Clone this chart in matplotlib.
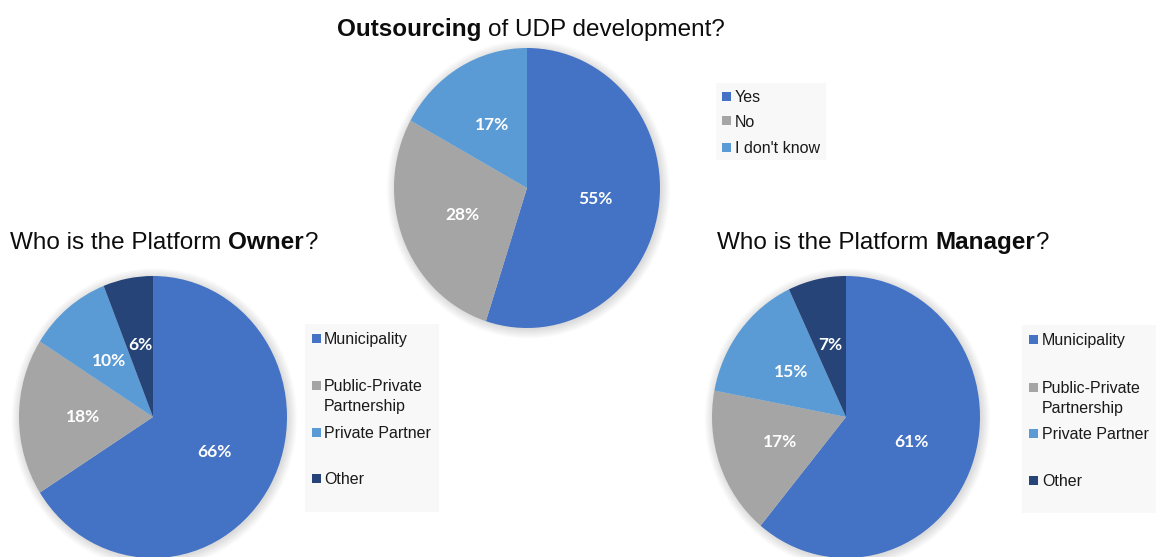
import matplotlib
matplotlib.use("Agg")
import matplotlib.pyplot as plt
from matplotlib.patches import Ellipse, Rectangle

plt.rcParams['font.family'] = ['Liberation Sans', 'DejaVu Sans']

# ---- data ----
outsourcing_labels = ["Yes", "No", "I don't know"]
outsourcing_values = [55, 28, 17]

owner_labels = ["Municipality", "Public-Private\nPartnership", "Private Partner", "Other"]
owner_values = [66, 18, 10, 6]

manager_labels = ["Municipality", "Public-Private\nPartnership", "Private Partner", "Other"]
manager_values = [61, 17, 15, 7]

colors = ["#4472C4", "#A5A5A5", "#5B9BD5", "#264478"]

W, H = 1156, 557
fig = plt.figure(figsize=(W / 100, H / 100), dpi=100)
fig.patch.set_facecolor("white")
renderer = fig.canvas.get_renderer()

LIM = 1.15


def fx(x):
    return x / W


def fy(y):
    return 1 - y / H


def draw_pie(cx, cy, rx, ry, values):
    ax = fig.add_axes([fx(cx - rx * LIM), fy(cy + ry * LIM),
                       2 * rx * LIM / W, 2 * ry * LIM / H])
    # soft drop shadow around the disc
    for k in range(12):
        r = 1 + 0.006 * k
        ax.add_patch(Ellipse((0.01, -0.01), 2 * r, 2 * r,
                             facecolor="#000000", alpha=0.012, lw=0, zorder=0))
    wedges, _, autotexts = ax.pie(
        values, colors=colors[:len(values)], startangle=90, counterclock=False,
        radius=1, autopct=lambda p: f"{p:.0f}%", pctdistance=0.52,
        wedgeprops=dict(linewidth=0),
        textprops=dict(color="white", fontsize=12.5, fontweight="bold",
                       family=["Lato", "DejaVu Sans"]))
    for w in wedges:
        w.set_zorder(2)
    for t in autotexts:
        t.set_zorder(3)
    ax.set_aspect("auto")
    ax.set_xlim(-LIM, LIM)
    ax.set_ylim(-LIM, LIM)
    ax.axis("off")
    return ax


def text_width(s, **kw):
    t = fig.text(0, 0, s, **kw)
    w = t.get_window_extent(renderer).width
    t.remove()
    return w


def rich_title(x, y, parts, size, align="left"):
    # parts: list of (text, bold); surrounding spaces are measured separately
    space = text_width("a a", fontsize=size) - text_width("aa", fontsize=size)
    widths = []
    for s, bold in parts:
        core = s.strip()
        lead = len(s) - len(s.lstrip())
        trail = len(s) - len(s.rstrip())
        w = text_width(core, fontsize=size, fontweight="bold" if bold else "normal")
        widths.append((lead * space, w, trail * space, core, bold))
    total = sum(a + b + c for a, b, c, _, _ in widths)
    cur = x - total / 2 if align == "center" else x
    for lead, w, trail, core, bold in widths:
        cur += lead
        fig.text(fx(cur), fy(y), core, fontsize=size,
                 fontweight="bold" if bold else "normal",
                 color="#0d0d0d", va="baseline", ha="left")
        cur += w + trail


def draw_legend(x0, y0, x1, y1, labels, ys, sq_x, txt_x, size=11.5, line_gap=20):
    fig.add_artist(Rectangle((fx(x0), fy(y1)), (x1 - x0) / W, (y1 - y0) / H,
                             transform=fig.transFigure, facecolor="#F8F8F8",
                             edgecolor="none", zorder=1))
    sq = 9
    cap_half = size * 100 / 72 * 0.716 / 2
    for lab, yc, col in zip(labels, ys, colors):
        fig.add_artist(Rectangle((fx(sq_x), fy(yc + sq / 2)), sq / W, sq / H,
                                 transform=fig.transFigure, facecolor=col,
                                 edgecolor="none", zorder=2))
        for i, line in enumerate(lab.split("\n")):
            fig.text(fx(txt_x), fy(yc + cap_half + i * line_gap), line,
                     fontsize=size, color="#1a1a1a",
                     va="baseline", ha="left", zorder=3)


# ---- pies ----
draw_pie(527, 188, 133, 140, outsourcing_values)
draw_pie(153, 417, 134, 141, owner_values)
draw_pie(846, 417, 134, 141, manager_values)

# ---- titles ----
rich_title(531, 36, [("Outsourcing", True), (" of UDP development?", False)], 17.5, align="center")
rich_title(10, 249, [("Who is the Platform ", False), ("Owner", True), ("?", False)], 17.5)
rich_title(717, 249, [("Who is the Platform ", False), ("Manager", True), ("?", False)], 17.5)

# ---- legends ----
draw_legend(716, 83, 826, 160, outsourcing_labels, [96, 121, 147], 722, 735)
draw_legend(305, 324, 439, 512, owner_labels, [338, 385, 432, 478], 312, 324)
draw_legend(1022, 325, 1156, 513, manager_labels, [339, 387, 433, 480], 1029, 1042)

fig.savefig("out.png", dpi=100, facecolor="white")
